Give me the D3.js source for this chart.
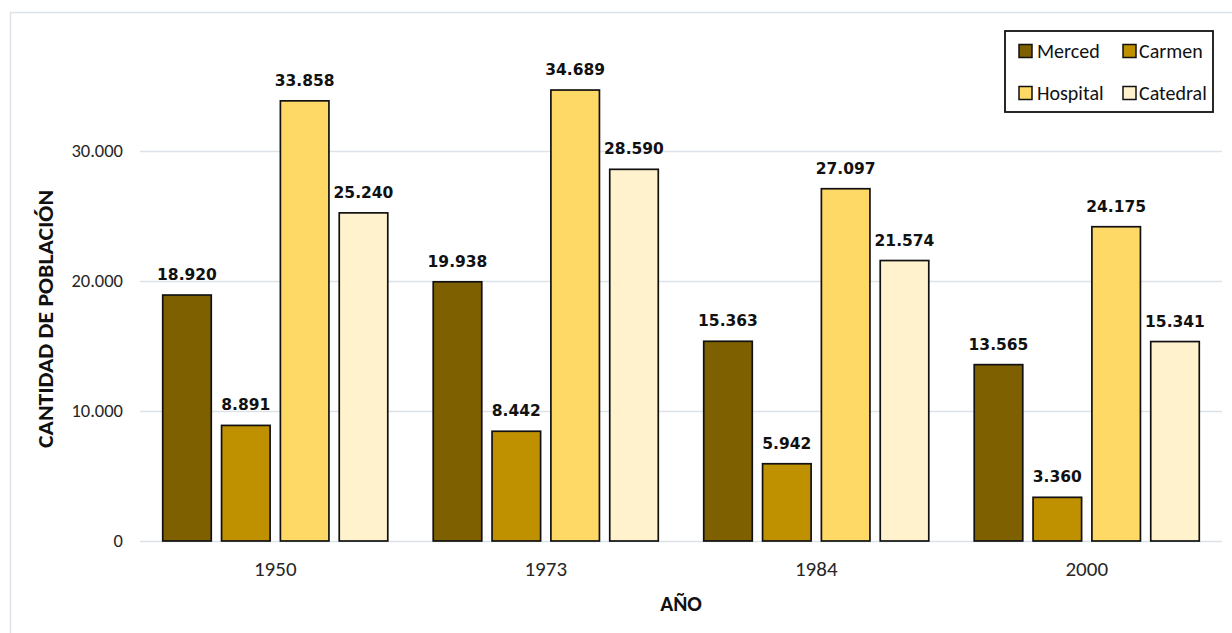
<!DOCTYPE html>
<html>
<head>
<meta charset="utf-8">
<script src="https://cdn.jsdelivr.net/npm/d3@7"></script>
<style>
  html, body { margin: 0; padding: 0; background: #ffffff; }
  svg { display: block; }
  text { font-family: Carlito, Lato, "Open Sans", sans-serif; }
</style>
</head>
<body>
<svg id="chart" width="1232" height="633"></svg>
<script>
// ---- data ----
const years = ["1950", "1973", "1984", "2000"];
const seriesNames = ["Merced", "Carmen", "Hospital", "Catedral"];
const merced   = [18920, 19938, 15363, 13565];
const carmen   = [8891, 8442, 5942, 3360];
const hospital = [33858, 34689, 27097, 24175];
const catedral = [25240, 28590, 21574, 15341];
const yTicks = [0, 10000, 20000, 30000];
const seriesColors = ["#7f6000", "#bf9000", "#ffd966", "#fff2cc"];

const seriesValues = [merced, carmen, hospital, catedral];
const fmt = v => d3.format(",")(v).replace(/,/g, ".");

const svg = d3.select("#chart");

// outer border (chart area frame)
svg.append("rect")
  .attr("x", 10.5).attr("y", 12.5)
  .attr("width", 1260).attr("height", 660)
  .attr("fill", "#ffffff")
  .attr("stroke", "#dde1e8").attr("stroke-width", 1.5);

const plot = { left: 140, right: 1222, top: 21, bottom: 541 };

const x0 = d3.scaleBand().domain(years)
  .range([plot.left, plot.right])
  .paddingInner(0.168).paddingOuter(0.084);
const x1 = d3.scaleBand().domain(seriesNames)
  .range([0, x0.bandwidth()])
  .paddingInner(0.175).paddingOuter(0);
const y = d3.scaleLinear().domain([0, 40000]).range([plot.bottom, plot.top]);

// gridlines + y tick labels
const yAxis = d3.axisLeft(y).tickValues(yTicks).tickSize(-(plot.right - plot.left))
  .tickFormat(fmt).tickPadding(17);
const gy = svg.append("g").attr("transform", `translate(${plot.left},0)`).call(yAxis);
gy.select(".domain").remove();
gy.selectAll(".tick line").attr("stroke", "#dde1e8").attr("stroke-width", 1.5);
gy.selectAll(".tick text")
  .attr("fill", "#262626")
  .style("font-size", "18.5px")
  .style("font-family", "Carlito, Lato, sans-serif");

// x axis labels
const xAxis = d3.axisBottom(x0).tickSize(0).tickPadding(20);
const gx = svg.append("g").attr("transform", `translate(0,${plot.bottom})`).call(xAxis);
gx.select(".domain").remove();
gx.selectAll(".tick text")
  .attr("fill", "#262626")
  .style("font-size", "21px")
  .style("font-family", "Carlito, Lato, sans-serif");

// bars
const rows = years.map((yr, i) => ({
  year: yr,
  items: seriesNames.map((s, j) => ({ series: s, value: seriesValues[j][i], color: seriesColors[j] }))
}));

const groups = svg.append("g").selectAll("g").data(rows).join("g")
  .attr("transform", d => `translate(${x0(d.year)},0)`);

groups.selectAll("rect").data(d => d.items).join("rect")
  .attr("x", d => x1(d.series))
  .attr("y", d => y(d.value))
  .attr("width", x1.bandwidth())
  .attr("height", d => y(0) - y(d.value))
  .attr("fill", d => d.color)
  .attr("stroke", "#111111")
  .attr("stroke-width", 1.7);

groups.selectAll("text.lbl").data(d => d.items).join("text")
  .attr("class", "lbl")
  .attr("x", d => x1(d.series) + x1.bandwidth() / 2)
  .attr("y", d => y(d.value) - 15)
  .attr("text-anchor", "middle")
  .attr("fill", "#111111")
  .style("font-family", "'DejaVu Sans', sans-serif")
  .style("font-weight", "bold")
  .style("font-size", "15.5px")
  .text(d => fmt(d.value));

// axis titles
svg.append("text")
  .attr("transform", `translate(53,319) rotate(-90)`)
  .attr("text-anchor", "middle")
  .attr("fill", "#111111")
  .style("font-weight", "bold")
  .style("font-size", "21.5px")
  .attr("textLength", 258).attr("lengthAdjust", "spacingAndGlyphs")
  .text("CANTIDAD DE POBLACIÓN");

svg.append("text")
  .attr("x", (plot.left + plot.right) / 2)
  .attr("y", 611)
  .attr("text-anchor", "middle")
  .attr("fill", "#111111")
  .style("font-weight", "bold")
  .style("font-size", "21.5px")
  .text("AÑO");

// legend
const legend = svg.append("g");
legend.append("rect")
  .attr("x", 1005).attr("y", 31).attr("width", 208).attr("height", 81)
  .attr("fill", "#ffffff").attr("stroke", "#111111").attr("stroke-width", 1.8);

const legPos = [
  { sx: 1019, tx: 1037, cy: 51 },
  { sx: 1123, tx: 1139, cy: 51 },
  { sx: 1019, tx: 1037, cy: 93 },
  { sx: 1123, tx: 1139, cy: 93 }
];
const legItems = legend.selectAll("g").data(seriesNames).join("g");
legItems.append("rect")
  .attr("x", (d, i) => legPos[i].sx)
  .attr("y", (d, i) => legPos[i].cy - 6.5)
  .attr("width", 13).attr("height", 13)
  .attr("fill", (d, i) => seriesColors[i])
  .attr("stroke", "#111111").attr("stroke-width", 1.5);
legItems.append("text")
  .attr("x", (d, i) => legPos[i].tx)
  .attr("y", (d, i) => legPos[i].cy)
  .attr("dy", "0.35em")
  .attr("fill", "#111111")
  .style("font-size", "20px")
  .text(d => d);
</script>
</body>
</html>
